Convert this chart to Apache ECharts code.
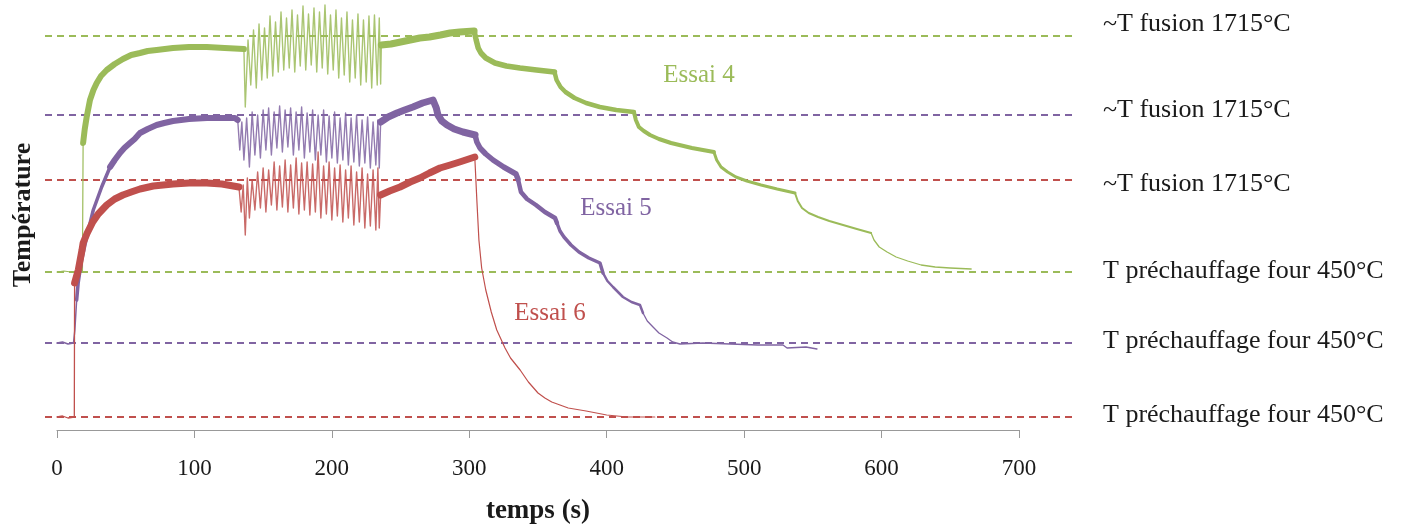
<!DOCTYPE html>
<html>
<head>
<meta charset="utf-8">
<script src="https://cdn.jsdelivr.net/npm/echarts@6/dist/echarts.min.js"></script>
<style>
  html, body { margin: 0; padding: 0; background: #fff; }
  #chart { width: 1408px; height: 529px; }
</style>
</head>
<body>
<div id="chart"></div>
<script>
// temps (s) / hauteur relative sur le graphe (pas d'echelle en y dans l'original)
var essai4 = [
    [0,158],[5,159],[10,158],[14,157],[18.5,158],[19,287],[20.2,301],[21.6,313],[24,330],[26.5,340],
    [28.9,347],[32,354],[36.2,360],[42,366],[48,371],[54,375],[60.4,377],[66,379],[72.5,380],[84.4,382],
    [96,383],[109,383],[122,382],[136,381],
    [137,323],[139,390],[141,345],[143,400],[145,342],[147,406],[149,350],[151,402],[153,352],[155,414],
    [157,354],[159,408],[161,358],[163,418],[165,360],[167,412],[169,362],[171,420],[173,358],[175,415],
    [177,364],[179,424],[181,360],[183,416],[185,365],[187,422],[189,358],[191,418],[193,362],[195,425],
    [197,356],[199,415],[201,360],[203,420],[205,352],[207,412],[209,355],[211,418],[213,348],[215,410],
    [217,352],[219,416],[221,345],[223,410],[225,348],[227,414],[229,342],[231,415],[233,345],[234.5,412],
    [235.5,346],[236,385],
    [243,386],[250,388],[257,390],[264,392],[271,393],[279,395],[286,397],[293,398],[303.5,399],
    [305,390],[306.5,382],[308.5,377],[312,372],[318.7,367],[327,364],[336.9,362],[349,360],[362,358],
    [363.5,350],[366.4,343],[370,338],[376.6,332],[385,327],[395,323],[407,320],[419.8,318],
    [421.2,310],[423.4,303],[427,299],[431.5,295],[438,291],[446.8,287],[462,282],[478,278],
    [480,270],[483.2,263],[488,258],[494,253],[502,249],[512.3,245],[524,241],[537,237],
    [539,229],[542.1,222],[547,217],[553.8,213],[562,209],[572,205],[582,201],[592.4,197],
    [594.5,190],[598.3,183],[604,178],[610.6,173],[619,169],[628.8,165],[639,163],[649.9,162],[665.2,161]
];

var essai5 = [
    [0,87],[4,88],[8,86],[12,87],[13,100],[14.3,130],[15.4,147],[17.9,170],[21.6,193],[26.4,220],
    [32.5,243],[38.6,263],[42,270],[45.8,277],[49,282],[53.1,287],[56.5,291],[60.4,297],[66,301],
    [72.5,305],[78,307],[84.4,309],[96,311],[109.1,312],[129.5,312],[131.5,310],
    [133,280],[134.5,308],[136,270],[138,312],[140,263],[142,318],[144,275],[146,315],[148,272],[150,320],
    [152,280],[154,322],[156,275],[158,318],[160,282],[162,324],[164,278],[166,320],[168,283],[170,322],
    [172,275],[174,318],[176,280],[178,323],[180,272],[182,317],[184,278],[186,320],[188,270],[190,315],
    [192,275],[194,320],[196,268],[198,314],[200,272],[202,318],[204,267],[206,312],[208,270],[210,317],
    [212,265],[214,312],[216,268],[218,315],[220,264],[222,310],[224,267],[226,313],[228,262],[230,308],
    [232,265],[233.5,310],[234.5,262],[235.5,308],
    [241,313],[247.4,317],[253,320],[259,323],[266,327],[273.6,330],[275,332],[276,322],[277.2,315],
    [280,309],[283.8,305],[289,301],[295.4,298],[304.2,295],
    [305.5,288],[307.8,282],[312,276],[317.3,270],[325,263],[334,256],[335.4,251],[337.6,238],
    [342,231],[348.5,225],[355,218],[362.4,212],[363.8,207],[366,199],[368.9,193],[374,185],[379.8,178],
    [387,172],[395.1,167],[397.3,157],[400.5,149],[404.6,143],[411.8,133],[418,128],[424.2,125],
    [426.4,117],[429.5,109],[433.7,103],[438,97],[443.9,92],[448,88],[453.3,86],[470,87],[490,86],
    [510,85],[528.3,85],[531.2,82],[545,83],[553,81]
];

var essai6 = [
    [0,13],[4,14],[8,12],[12.6,13],[12.8,147],[15.5,160],[18.2,180],[19,187],[22,197],[26,208],
    [30,216],[36.2,225],[42,231],[48,235],[54,238],[60.4,241],[70,244],[84.4,246],[96,247],[109,247],
    [120,246],[132.4,243],
    [134,218],[135.5,245],[137,195],[138.5,252],[140,212],[142,250],[144,220],[146,258],[148,222],[150,262],
    [152,218],[154,260],[156,225],[158,268],[160,220],[162,264],[164,223],[166,270],[168,218],[170,265],
    [172,222],[174,272],[176,216],[178,267],[180,220],[182,268],[184,215],[186,266],[188,218],[190,278],
    [192,212],[194,264],[196,216],[198,268],[200,210],[202,262],[204,214],[206,265],[208,208],[210,260],
    [212,212],[214,264],[216,205],[218,258],[220,208],[222,262],[224,202],[226,256],[228,204],[230,260],
    [232,200],[233.5,262],[234.5,202],[235.5,235],
    [242,239],[249.6,243],[257,248],[264,252],[271,257],[278.7,262],[286,265],[293,268],[304,273],
    [305.5,230],[307,190],[309,162],[312,140],[316,118],[320,100],[326,82],[330,72],[337,60],[343,48],
    [350,37],[355,32],[360,28],[366,25],[372,22],[385,19],[400,15],[415,13],[435,13]
];

var refLevels = [394, 315, 250, 158, 87, 13];
var refLabels = ['~T fusion 1715°C', '~T fusion 1715°C', '~T fusion 1715°C',
                 'T préchauffage four 450°C', 'T préchauffage four 450°C', 'T préchauffage four 450°C'];
var xTicks = [0, 100, 200, 300, 400, 500, 600, 700];

var GREEN = '#9bbb59', PURPLE = '#8064a2', RED = '#c0504d';
var refColors = [GREEN, PURPLE, RED, GREEN, PURPLE, RED];
var refLabelShift = [-12, -5, 4, -1, -2, -2];
var FONT = 'Liberation Serif';

function piece(data, from, to) {
    return data.filter(function (p) { return p[0] >= from && p[0] <= to; });
}

// [debut, fin, epaisseur, opacite] : le bruit de mesure donne une bande epaisse
var cuts = {
    e4: [[0,19,1.2,1],[19,136,6,1],[136,236,1.4,0.85],[236,303.5,7,1],[303.5,362,5.5,1],
         [362,419.8,4.5,1],[419.8,478,4,1],[478,537,3,1],[537,592.4,2,1],[592.4,700,1.3,1]],
    e5: [[0,14.3,1.5,1],[14.3,38.6,3.5,1],[38.6,131.5,6,1],[131.5,235.5,1.4,0.85],[235.5,304.2,7,1],
         [304.2,335.4,5.5,1],[335.4,363.8,4.5,1],[363.8,397.3,3.5,1],[397.3,426.4,2.5,1],[426.4,700,1.3,1]],
    e6: [[0,12.8,1.3,1],[12.8,132.4,7,1],[132.4,235.5,1.4,0.85],[235.5,304,7,1],[304,700,1.2,1]]
};

var series = [];

// lignes de reference en pointilles (grille large)
refLevels.forEach(function (lvl, i) {
    series.push({
        name: refLabels[i],
        type: 'line',
        xAxisIndex: 1,
        yAxisIndex: 1,
        data: [[0, lvl], [1, lvl]],
        showSymbol: false,
        z: 1,
        lineStyle: { color: refColors[i], width: 2, type: [7, 5] },
        endLabel: {
            show: true,
            formatter: refLabels[i],
            distance: 28,
            offset: [0, refLabelShift[i]],
            color: '#1a1a1a',
            fontFamily: FONT,
            fontSize: 26
        },
        silent: true
    });
});

function addEssai(data, segs, color, name) {
    segs.forEach(function (s) {
        series.push({
            name: name,
            type: 'line',
            xAxisIndex: 0,
            yAxisIndex: 0,
            data: piece(data, s[0], s[1]),
            showSymbol: false,
            z: 3,
            lineStyle: { color: color, width: s[2], opacity: s[3], join: 'round', cap: 'round' }
        });
    });
}
addEssai(essai4, cuts.e4, GREEN, 'Essai 4');
addEssai(essai5, cuts.e5, PURPLE, 'Essai 5');
addEssai(essai6, cuts.e6, RED, 'Essai 6');

var option = {
    animation: false,
    backgroundColor: '#fff',
    grid: [
        { left: 57, right: 389, top: 0, bottom: 99, outerBoundsMode: 'none' },
        { left: 45, right: 333, top: 0, bottom: 99, outerBoundsMode: 'none' }
    ],
    xAxis: [
        {
            type: 'value',
            gridIndex: 0,
            min: xTicks[0],
            max: xTicks[xTicks.length - 1],
            interval: 100,
            name: 'temps (s)',
            nameLocation: 'middle',
            nameGap: 68,
            nameTextStyle: { fontFamily: FONT, fontSize: 27, fontWeight: 'bold', color: '#1a1a1a' },
            axisLine: { show: true, lineStyle: { color: '#999', width: 1.2 } },
            axisTick: { show: true, length: 8, lineStyle: { color: '#999' } },
            axisLabel: { margin: 27, fontFamily: FONT, fontSize: 23, color: '#1a1a1a' },
            splitLine: { show: false }
        },
        { type: 'value', gridIndex: 1, min: 0, max: 1, show: false }
    ],
    yAxis: [
        {
            type: 'value',
            gridIndex: 0,
            min: 0,
            max: 430,
            name: 'Température',
            nameLocation: 'middle',
            nameRotate: 90,
            nameGap: 21,
            nameTextStyle: { fontFamily: FONT, fontSize: 26, fontWeight: 'bold', color: '#1a1a1a' },
            axisLine: { show: false },
            axisTick: { show: false },
            axisLabel: { show: false },
            splitLine: { show: false }
        },
        { type: 'value', gridIndex: 1, min: 0, max: 430, show: false }
    ],
    graphic: [
        { type: 'text', x: 699, y: 75, style: { text: 'Essai 4', fill: GREEN, font: '25px "Liberation Serif"', align: 'center', verticalAlign: 'middle' } },
        { type: 'text', x: 616, y: 208, style: { text: 'Essai 5', fill: PURPLE, font: '25px "Liberation Serif"', align: 'center', verticalAlign: 'middle' } },
        { type: 'text', x: 550, y: 313, style: { text: 'Essai 6', fill: RED, font: '25px "Liberation Serif"', align: 'center', verticalAlign: 'middle' } }
    ],
    series: series
};

var chart = echarts.init(document.getElementById('chart'));
chart.setOption(option);
</script>
</body>
</html>
